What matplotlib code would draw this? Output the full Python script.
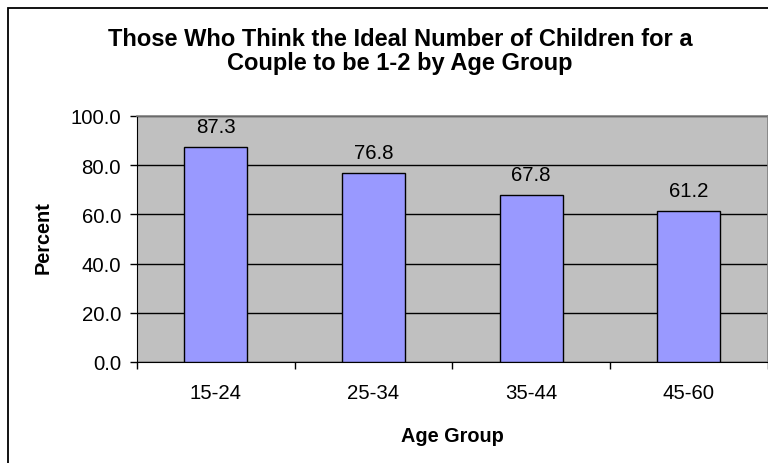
import matplotlib
matplotlib.use("Agg")
import matplotlib.pyplot as plt
from matplotlib.patches import Rectangle

categories = ["15-24", "25-34", "35-44", "45-60"]
values = [87.3, 76.8, 67.8, 61.2]
yticks = [0, 20, 40, 60, 80, 100]

plt.rcParams['font.family'] = ['Liberation Sans', 'DejaVu Sans']

W, H = 768, 464
fig = plt.figure(figsize=(W/100, H/100), dpi=100)
fig.patch.set_facecolor('white')

def fx(px):
    return px / W

def fy(py):
    return 1 - py / H

# outer frame (cropped at right/bottom)
fig.add_artist(Rectangle((fx(7.5), -0.1), 1.2, fy(8.5) + 0.1, transform=fig.transFigure,
                         fill=False, edgecolor='black', linewidth=1.3))

L, R, T, B = 137, 767.5, 117, 363
ax = fig.add_axes([fx(L), fy(B), (R - L)/W, (B - T)/H])
ax.set_facecolor('#C0C0C0')
x = list(range(len(categories)))
ax.bar(x, values, width=0.40, color='#9999FF', edgecolor='black', linewidth=1, zorder=3)
ax.set_xlim(-0.5, len(categories) - 0.5)
ax.set_ylim(0, 100)
ax.set_yticks(yticks)
ax.set_yticklabels([f"{v:.1f}" for v in yticks], fontsize=14.7)
ax.set_xticks([i + 0.5 for i in range(-1, len(categories))])
ax.set_xticklabels([])
ax.set_xticks(x, minor=True)
ax.set_xticklabels(categories, minor=True, fontsize=14.7)
ax.tick_params(axis='x', which='minor', length=0, pad=15)
ax.tick_params(axis='x', which='major', length=5, width=1, direction='out', color='black')
ax.tick_params(axis='y', length=5, width=1, direction='out', pad=6.5)
ax.grid(axis='y', color='black', linewidth=1, zorder=1)
for s in ['top', 'right']:
    ax.spines[s].set_color('#808080')
    ax.spines[s].set_linewidth(1.2)
for s in ['left', 'bottom']:
    ax.spines[s].set_color('black')

for xi, v in zip(x, values):
    ax.annotate(f"{v:.1f}", (xi, v), xytext=(0, 10.8), textcoords='offset points',
                ha='center', va='baseline', fontsize=14.7, zorder=4)

fig.text(fx(43), fy(238), "Percent", rotation=90, ha='center', va='center',
         fontsize=14.3, fontweight='bold')
fig.text(fx(452), fy(442), "Age Group", ha='center', va='baseline',
         fontsize=14.3, fontweight='bold')

fig.text(fx(400), fy(46), "Those Who Think the Ideal Number of Children for a",
         ha='center', va='baseline', fontsize=17, fontweight='bold')
fig.text(fx(400), fy(70), "Couple to be 1-2 by Age Group",
         ha='center', va='baseline', fontsize=17, fontweight='bold')

fig.savefig("out.png", dpi=100)
